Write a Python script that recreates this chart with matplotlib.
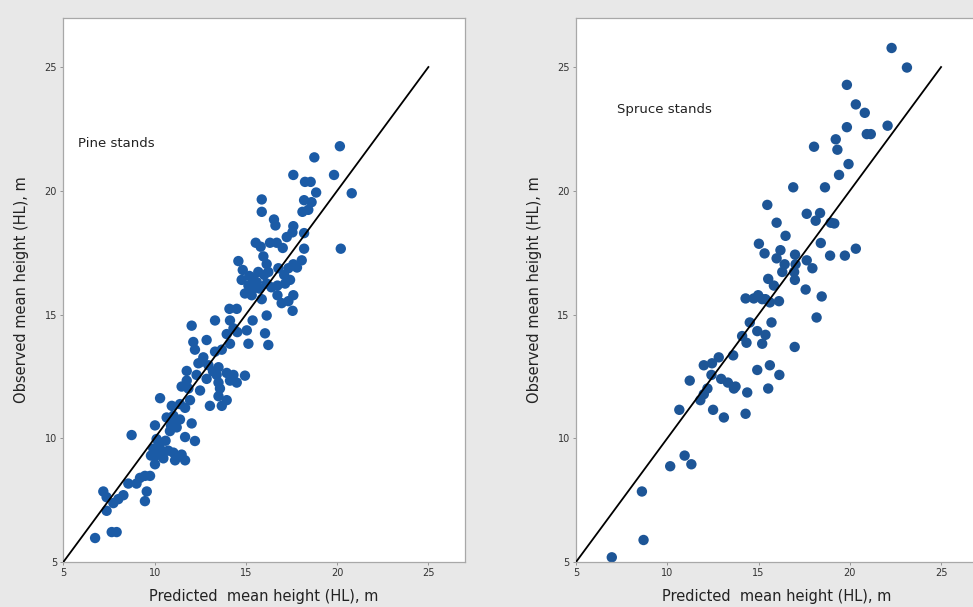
import matplotlib
matplotlib.use("Agg")
import matplotlib.pyplot as plt

# ---------------- data ----------------
pine_pred = [20.15, 18.75, 19.83, 17.6, 18.24, 18.55, 18.85, 20.8, 15.87, 18.19, 18.6, 18.42, 18.1, 15.87,
             16.54, 16.62, 17.6, 18.19, 17.24, 17.55, 20.2, 15.54, 15.81, 16.32, 16.69, 17.02, 18.19, 18.06,
             14.59, 15.96, 16.14, 14.83, 15.19, 15.68, 16.23, 16.78, 17.33, 17.6, 14.77, 15.41, 15.14, 15.59,
             16.14, 16.73, 17.15, 17.42, 14.95, 15.32, 15.87, 16.73, 17.6, 16.96, 17.33, 17.56, 14.5, 16.14,
             15.37, 14.1, 13.31, 14.13, 12.03, 14.32, 14.53, 15.05, 13.95, 16.05, 15.14, 16.23, 12.85, 12.12,
             12.21, 13.31, 13.68, 14.13, 12.67, 12.4, 12.95, 13.5, 13.4, 13.95, 14.32, 14.95, 11.76, 12.3,
             12.85, 13.5, 14.13, 14.5, 11.76, 11.48, 11.85, 12.49, 13.58, 13.5, 13.95, 13.03, 13.68, 10.3,
             10.94, 11.39, 11.67, 11.94, 10.66, 11.03, 11.39, 12.03, 10.02, 11.21, 8.74, 10.84, 11.67, 12.21,
             10.11, 10.3, 9.93, 10.39, 10.75, 11.03, 11.48, 10.02, 10.48, 11.12, 11.67, 10.02, 9.47, 9.2,
             9.75, 8.56, 9.01, 9.57, 7.19, 7.37, 8.01, 8.29, 7.74, 9.47, 7.37, 7.65, 7.92, 6.74,
             15.3, 15.6, 15.75, 16.0, 16.4, 17.1, 17.8, 10.2, 10.6, 10.9, 9.8, 12.6, 13.2, 11.1]
pine_obs = [21.8, 21.35, 20.64, 20.64, 20.36, 20.36, 19.93, 19.9, 19.65, 19.62, 19.54, 19.23, 19.15, 19.15,
            18.84, 18.6, 18.57, 18.29, 18.13, 18.32, 17.66, 17.9, 17.74, 17.9, 17.9, 17.69, 17.66, 17.19,
            17.16, 17.35, 17.04, 16.8, 16.56, 16.72, 16.72, 16.87, 16.87, 17.03, 16.4, 16.48, 16.17, 16.09,
            16.25, 16.17, 16.25, 16.4, 15.85, 15.78, 15.62, 15.78, 15.78, 15.46, 15.54, 15.15, 15.23, 14.96,
            14.76, 15.23, 14.76, 14.76, 14.55, 14.44, 14.29, 14.36, 14.21, 14.24, 13.82, 13.77, 13.97, 13.89,
            13.58, 13.5, 13.58, 13.82, 13.27, 13.03, 12.95, 12.87, 12.56, 12.64, 12.56, 12.53, 12.72, 12.56,
            12.4, 12.25, 12.33, 12.25, 12.33, 12.09, 12.01, 11.93, 12.01, 11.7, 11.54, 11.31, 11.31, 11.62,
            11.31, 11.38, 11.23, 11.54, 10.84, 10.91, 10.76, 10.6, 10.52, 10.44, 10.13, 10.29, 10.05, 9.89,
            9.97, 9.82, 9.58, 9.5, 9.5, 9.42, 9.34, 9.27, 9.19, 9.11, 9.11, 8.95, 8.48, 8.4,
            8.48, 8.17, 8.17, 7.85, 7.85, 7.62, 7.54, 7.7, 7.38, 7.46, 7.07, 6.21, 6.21, 5.97,
            16.0, 16.3, 16.05, 16.6, 16.1, 16.6, 16.9, 9.7, 9.9, 10.5, 9.3, 13.1, 12.7, 10.7]

spruce_pred = [22.29, 23.13, 19.84, 20.33, 20.82, 19.84, 22.07, 20.93, 21.15, 18.04, 19.23, 19.32, 19.93, 19.41,
               16.9, 18.64, 15.48, 17.64, 18.37, 18.13, 15.99, 18.96, 19.15, 16.48, 15.02, 18.41, 20.33, 16.2,
               15.33, 18.92, 19.73, 17.0, 15.99, 17.64, 16.43, 17.95, 17.03, 16.95, 16.3, 16.99, 15.53, 15.84,
               17.58, 14.74, 14.98, 15.2, 15.38, 15.62, 16.12, 14.29, 18.46, 18.18, 15.71, 14.52, 14.93, 15.38,
               14.1, 14.34, 15.2, 16.98, 13.61, 12.82, 12.45, 12.0, 15.62, 14.93, 12.42, 16.14, 12.95, 13.32,
               11.23, 13.74, 12.2, 13.65, 15.53, 12.0, 14.38, 11.81, 10.66, 12.51, 13.1, 14.29, 10.95, 11.32,
               10.16, 8.61, 8.7, 6.96]
spruce_obs = [25.77, 24.98, 24.28, 23.49, 23.15, 22.57, 22.63, 22.29, 22.29, 21.78, 22.08, 21.66, 21.08, 20.64,
              20.14, 20.14, 19.43, 19.07, 19.1, 18.79, 18.71, 18.71, 18.68, 18.18, 17.86, 17.89, 17.66, 17.6,
              17.47, 17.38, 17.38, 17.42, 17.27, 17.19, 17.03, 16.87, 17.03, 16.72, 16.72, 16.4, 16.44, 16.17,
              16.01, 15.65, 15.78, 15.62, 15.62, 15.49, 15.54, 15.65, 15.73, 14.88, 14.68, 14.68, 14.33, 14.18,
              14.13, 13.86, 13.82, 13.69, 13.35, 13.27, 13.03, 12.95, 12.95, 12.76, 12.56, 12.56, 12.4, 12.25,
              12.33, 12.09, 12.01, 12.01, 12.01, 11.78, 11.85, 11.54, 11.15, 11.15, 10.84, 10.99, 9.3, 8.95,
              8.87, 7.85, 5.89, 5.19]

ticks = [5, 10, 15, 20, 25]
line_ends = [5, 25]
panel_titles = ["Pine stands", "Spruce stands"]
x_label = "Predicted  mean height (HL), m"
y_label = "Observed mean height (HL), m"

# ---------------- figure ----------------
fig = plt.figure(figsize=(9.73, 6.07), dpi=100)
fig.patch.set_facecolor("#e8e8e8")

ax_w = 0.4127
ax_h = 0.897
ax_b = 0.0741
axes = [fig.add_axes([0.0651, ax_b, ax_w, ax_h]),
        fig.add_axes([0.5920, ax_b, ax_w, ax_h])]

data = [(pine_pred, pine_obs, "#1b5ba6"), (spruce_pred, spruce_obs, "#1d5596")]
title_pos = [(5.8, 21.93), (7.25, 23.3)]

for ax, (xs, ys, col), title, tp in zip(axes, data, panel_titles, title_pos):
    ax.set_facecolor("white")
    ax.plot(line_ends, line_ends, color="black", lw=1.3, zorder=3)
    ax.scatter(xs, ys, s=56, color=col, edgecolors="none", zorder=2)
    ax.set_xlim(5, 27)
    ax.set_ylim(5, 27)
    ax.set_xticks(ticks)
    ax.set_yticks(ticks)
    ax.tick_params(labelsize=7, length=2.5, width=0.6, color="#888888", labelcolor="#333333", pad=2)
    for sp in ax.spines.values():
        sp.set_color("#a8a8a8")
        sp.set_linewidth(0.9)
    ax.set_xlabel(x_label, fontsize=10.5, color="#222222", labelpad=8)
    ax.set_ylabel(y_label, fontsize=10.5, color="#222222", labelpad=11)
    ax.text(tp[0], tp[1], title, fontsize=9.5, color="#222222", va="center", ha="left")

fig.savefig("out.png", dpi=100, facecolor=fig.get_facecolor())
